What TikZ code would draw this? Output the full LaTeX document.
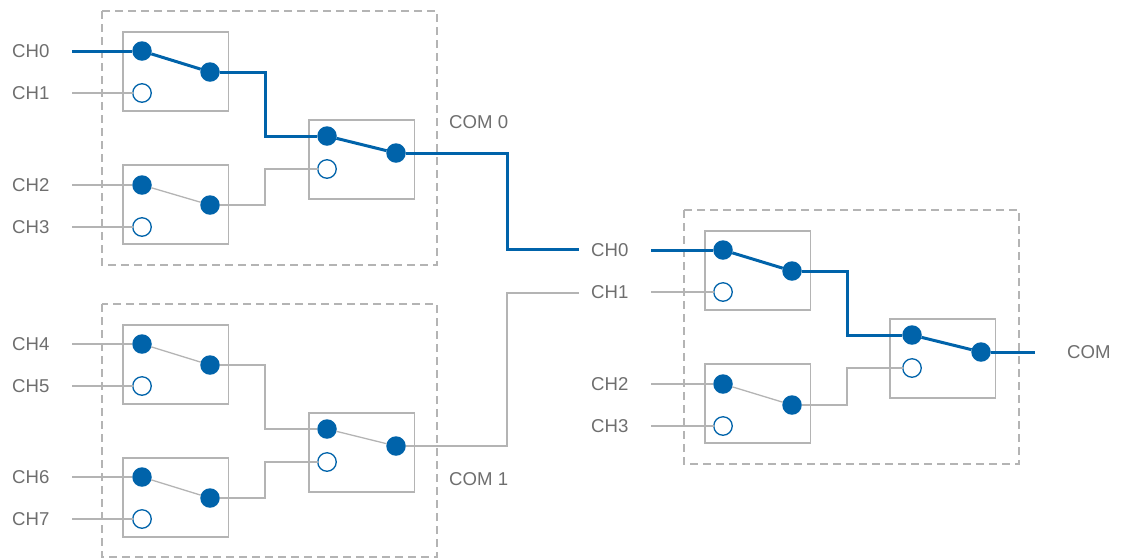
\documentclass[tikz,border=0pt]{standalone}
\usepackage{fontspec}
\setmainfont{Liberation Sans}
\definecolor{muxblue}{HTML}{0063AA}
\definecolor{muxline}{HTML}{B4B4B4}
\definecolor{muxtext}{HTML}{6E6E6E}
\begin{document}
\begin{tikzpicture}[x=1pt,y=-1pt, line join=miter, font=\fontsize{18.6}{20}\selectfont,
	cellbox/.style={draw=muxline,line width=1.4pt},
	groupbox/.style={draw=muxline,line width=1.4pt,dash pattern=on 8pt off 5pt},
	pinon/.style={circle,fill=muxblue,minimum size=19.5pt,inner sep=0pt,outer sep=0pt},
	pinoff/.style={circle,draw=muxblue,line width=1.3pt,fill=white,minimum size=18.5pt,inner sep=0pt,outer sep=0pt},
	wireon/.style={draw=muxblue,line width=3pt},
	wireoff/.style={draw=muxline,line width=1.3pt},
	lab/.style={text=muxtext,anchor=west,inner sep=0pt}]
		\useasboundingbox (0,0) rectangle (1123,558);
		\draw[groupbox] (102,11) rectangle (437,265);
		\draw[groupbox] (102,304) rectangle (437,557);
		\draw[groupbox] (684,210) rectangle (1019,464);
		% Cells: name, box corner, x of pins, y of pins, switch style
		\foreach \n/\bx/\by/\xa/\xb/\ya/\yb/\yc/\sw in {
			a/123/32/142/210/51/72/93/wireon,
			b/123/165/142/210/185/205/227/wireoff,
			c/309/120/327/396/136/153/169/wireon,
			d/123/325/142/210/344/365/386/wireoff,
			e/123/458/142/210/477/498/519/wireoff,
			f/309/413/327/396/429/446/462/wireoff,
			g/705/231/723/792/250/271/292/wireon,
			h/705/364/723/792/384/405/426/wireoff,
			i/890/319/912/981/335/352/368/wireon}{
			\draw[cellbox] (\bx,\by) rectangle +(105.5,79);
			\node[pinon] (\n1) at (\xa,\ya) {};
			\node[pinon] (\n2) at (\xb,\yb) {};
			\node[pinoff] (\n3) at (\xa,\yc) {};
			\draw[\sw] (\n1)--(\n2);
		}
		% Labels and free wire ends
		\foreach \n/\x/\y/\t/\wx in {
			lzero/12/51/CH0/72, lone/12/93/CH1/72, ltwo/12/185/CH2/72, lthree/12/227/CH3/72,
			lfour/12/344/CH4/72, lfive/12/386/CH5/72, lsix/12/477/CH6/72, lseven/12/519/CH7/72,
			rzero/591/250/CH0/651, rone/591/292/CH1/651, rtwo/591/384/CH2/651, rthree/591/426/CH3/651}{
			\node[lab] (\n) at (\x,\y) {\t};
			\coordinate (w\n) at (\wx,\y);
		}
		\node[lab] (comzero) at (449,122) {COM 0};
		\node[lab] (comone) at (449,479) {COM 1};
		\node[lab] (com) at (1067,352) {COM};
		\coordinate (ozero) at (579,249);
		\coordinate (oone) at (579,293);
		\coordinate (ocom) at (1035,352);
		% Inputs
		\draw[wireon] (wlzero)--(a1);
		\draw[wireoff] (wlone)--(a3);
		\draw[wireoff] (wltwo)--(b1);
		\draw[wireoff] (wlthree)--(b3);
		\draw[wireoff] (wlfour)--(d1);
		\draw[wireoff] (wlfive)--(d3);
		\draw[wireoff] (wlsix)--(e1);
		\draw[wireoff] (wlseven)--(e3);
		\draw[wireon] (wrzero)--(g1);
		\draw[wireoff] (wrone)--(g3);
		\draw[wireoff] (wrtwo)--(h1);
		\draw[wireoff] (wrthree)--(h3);
		% Between cells
		\draw[wireon] (a2)--++(55,0) |- (c1);
		\draw[wireoff] (b2)--++(55,0) |- (c3);
		\draw[wireoff] (d2)--++(55,0) |- (f1);
		\draw[wireoff] (e2)--++(55,0) |- (f3);
		\draw[wireon] (g2)--++(55,0) |- (i1);
		\draw[wireoff] (h2)--++(55,0) |- (i3);
		\draw[wireon] (c2)--++(111,0) |- (ozero);
		\draw[wireoff] (f2)--++(111,0) |- (oone);
		\draw[wireon] (i2)--(ocom);
\end{tikzpicture}
\end{document}
